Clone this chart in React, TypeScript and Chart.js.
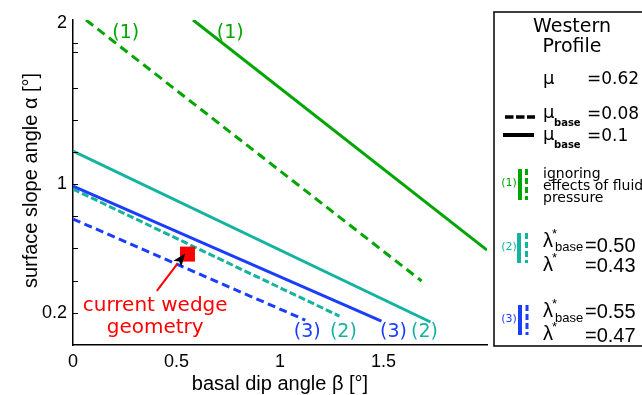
import React, { useEffect, useRef } from 'react';
import { Chart, registerables } from 'chart.js';

Chart.register(...registerables);

// ---- data (basal dip angle beta [deg] vs surface slope angle alpha [deg]) ----
const greenSolidBeta = [0.58, 2.0];
const greenSolidAlpha = [2.02, 0.59];
const greenDashedBeta = [0.063, 1.684];
const greenDashedAlpha = [2.02, 0.398];
const tealSolidBeta = [0, 1.727];
const tealSolidAlpha = [1.205, 0.143];
const tealDashedBeta = [0, 1.287];
const tealDashedAlpha = [0.969, 0.18];
const blueSolidBeta = [0, 1.49];
const blueSolidAlpha = [0.988, 0.149];
const blueDashedBeta = [0, 1.122];
const blueDashedAlpha = [0.783, 0.155];

const wedgeBeta = [0.553];
const wedgeAlpha = [0.565];

const yTickValues = [0.2, 0.4, 0.6, 0.8, 1, 1.2, 1.4, 1.6, 1.82, 1.88, 2];
const yTickLabeled = [0.2, 1, 2];
const xTickLabeled = [0, 0.5, 1, 1.5];

// annotation labels: [text, beta, alpha, colorKey]
const curveLabels: [string, number, number, string][] = [
  ['(1)', 0.255, 1.907, 'green'],
  ['(1)', 0.76, 1.907, 'green'],
  ['(3)', 1.132, 0.05, 'blue'],
  ['(2)', 1.306, 0.05, 'teal'],
  ['(3)', 1.548, 0.05, 'blue'],
  ['(2)', 1.698, 0.05, 'teal'],
];
const wedgeText = ['current wedge', 'geometry'];
const wedgeTextBeta = 0.397;
const wedgeTextAlpha = [0.211, 0.075];
const arrowTail = [0.405, 0.337];
const arrowTip = [0.542, 0.569];

const COLORS: Record<string, string> = {
  green: '#00a600',
  teal: '#14b3a0',
  blue: '#1a3dff',
  red: '#ff0000',
};

const pts = (xs: number[], ys: number[]) => xs.map((x, i) => ({ x, y: ys[i] }));

const SANS = '"Liberation Sans", Arial, sans-serif';
const DEJA = '"DejaVu Sans", sans-serif';

function txt(ctx: CanvasRenderingContext2D, s: string, x: number, y: number, font: string, color: string, align: CanvasTextAlign = 'left') {
  ctx.font = font;
  ctx.fillStyle = color;
  ctx.textAlign = align;
  ctx.textBaseline = 'alphabetic';
  ctx.fillText(s, x, y);
}

const customPlugin = {
  id: 'customDraw',
  afterDatasetsDraw(chart: any) {
    const ctx: CanvasRenderingContext2D = chart.ctx;
    const xs = chart.scales.x;
    const ys = chart.scales.y;
    ctx.save();
    // curve labels
    curveLabels.forEach(([s, b, a, c]) => {
      txt(ctx, s, xs.getPixelForValue(b), ys.getPixelForValue(a), `19px ${DEJA}`, COLORS[c], 'center');
    });
    // wedge text
    wedgeText.forEach((s, i) => {
      txt(ctx, s, xs.getPixelForValue(wedgeTextBeta), ys.getPixelForValue(wedgeTextAlpha[i]), `20px ${DEJA}`, COLORS.red, 'center');
    });
    // arrow
    const tx = xs.getPixelForValue(arrowTail[0]);
    const ty = ys.getPixelForValue(arrowTail[1]);
    const hx = xs.getPixelForValue(arrowTip[0]);
    const hy = ys.getPixelForValue(arrowTip[1]);
    const ang = Math.atan2(hy - ty, hx - tx);
    const hl = 13;
    const hw = 5;
    const bx = hx - hl * Math.cos(ang);
    const by = hy - hl * Math.sin(ang);
    ctx.strokeStyle = COLORS.red;
    ctx.lineWidth = 2;
    ctx.beginPath();
    ctx.moveTo(tx, ty);
    ctx.lineTo(bx, by);
    ctx.stroke();
    ctx.fillStyle = '#000';
    ctx.beginPath();
    ctx.moveTo(hx, hy);
    ctx.lineTo(bx + hw * Math.sin(ang), by - hw * Math.cos(ang));
    ctx.lineTo(bx + 3 * Math.cos(ang), by + 3 * Math.sin(ang));
    ctx.lineTo(bx - hw * Math.sin(ang), by + hw * Math.cos(ang));
    ctx.closePath();
    ctx.fill();
    ctx.restore();
  },
  afterDraw(chart: any) {
    const ctx: CanvasRenderingContext2D = chart.ctx;
    const area = chart.chartArea;
    const ys = chart.scales.y;
    ctx.save();
    // inward y ticks
    ctx.strokeStyle = '#000';
    ctx.lineWidth = 1;
    yTickValues.forEach((v) => {
      if (v === 2) return;
      const py = Math.round(ys.getPixelForValue(v)) + 0.5;
      ctx.beginPath();
      ctx.moveTo(area.left, py);
      ctx.lineTo(area.left + 5, py);
      ctx.stroke();
    });
    // axis titles
    txt(ctx, 'basal dip angle β [°]', (area.left + area.right) / 2, 390, `20px ${SANS}`, '#000', 'center');
    ctx.save();
    ctx.translate(37, (area.top + area.bottom) / 2 - 2);
    ctx.rotate(-Math.PI / 2);
    txt(ctx, 'surface slope angle α [°]', 0, 0, `20px ${SANS}`, '#000', 'center');
    ctx.restore();

    // ---- legend box (right side runs past the canvas edge) ----
    const L = area.right + 7;
    ctx.strokeStyle = '#000';
    ctx.lineWidth = 1.5;
    ctx.beginPath();
    ctx.moveTo(chart.width + 5, 12);
    ctx.lineTo(L, 12);
    ctx.lineTo(L, 346);
    ctx.lineTo(chart.width + 5, 346);
    ctx.stroke();

    txt(ctx, 'Western', L + 78, 32, `19px ${DEJA}`, '#000', 'center');
    txt(ctx, 'Profile', L + 78, 52, `19px ${DEJA}`, '#000', 'center');

    txt(ctx, 'μ', L + 49, 84, `18px ${DEJA}`, '#000');
    txt(ctx, '=0.62', L + 93, 84, `17px ${DEJA}`, '#000');

    // dashed black sample
    ctx.strokeStyle = '#000';
    ctx.lineWidth = 3.5;
    ctx.setLineDash([8.5, 2.5]);
    ctx.beginPath();
    ctx.moveTo(L + 11, 117);
    ctx.lineTo(L + 41, 117);
    ctx.stroke();
    ctx.setLineDash([]);
    txt(ctx, 'μ', L + 49, 118, `18px ${DEJA}`, '#000');
    txt(ctx, 'base', L + 60, 126, `bold 10px ${DEJA}`, '#000');
    txt(ctx, '=0.08', L + 93, 119, `17px ${DEJA}`, '#000');

    // solid black sample
    ctx.lineWidth = 4;
    ctx.beginPath();
    ctx.moveTo(L + 9, 135);
    ctx.lineTo(L + 40, 135);
    ctx.stroke();
    txt(ctx, 'μ', L + 49, 140, `18px ${DEJA}`, '#000');
    txt(ctx, 'base', L + 60, 148, `bold 10px ${DEJA}`, '#000');
    txt(ctx, '=0.1', L + 93, 141, `17px ${DEJA}`, '#000');

    const bars = (color: string, y0: number, y1: number, xs0: number, xd: number) => {
      ctx.fillStyle = color;
      ctx.fillRect(xs0, y0, 4, y1 - y0);
      ctx.strokeStyle = color;
      ctx.lineWidth = 3;
      ctx.setLineDash([6, 3]);
      ctx.beginPath();
      ctx.moveTo(xd, y0);
      ctx.lineTo(xd, y1);
      ctx.stroke();
      ctx.setLineDash([]);
    };

    // group (1)
    txt(ctx, '(1)', L + 15, 186, `11px ${DEJA}`, COLORS.green, 'center');
    bars(COLORS.green, 169, 200, L + 24, L + 32.5);
    txt(ctx, 'ignoring', L + 49, 178, `14px ${DEJA}`, '#000');
    txt(ctx, 'effects of fluid', L + 49, 190, `14px ${DEJA}`, '#000');
    txt(ctx, 'pressure', L + 49, 202, `14px ${DEJA}`, '#000');

    // group (2)
    txt(ctx, '(2)', L + 15, 250, `11px ${DEJA}`, COLORS.teal, 'center');
    bars(COLORS.teal, 233, 263, L + 23, L + 32.5);
    txt(ctx, 'λ', L + 49, 247, `20px ${SANS}`, '#000');
    txt(ctx, '*', L + 58, 238, `13px ${SANS}`, '#000');
    txt(ctx, 'base', L + 61, 251, `13px ${SANS}`, '#000');
    txt(ctx, '=0.50', L + 91, 252, `20px ${SANS}`, '#000');
    txt(ctx, 'λ', L + 49, 271, `20px ${SANS}`, '#000');
    txt(ctx, '*', L + 58, 262, `13px ${SANS}`, '#000');
    txt(ctx, '=0.43', L + 91, 272, `20px ${SANS}`, '#000');

    // group (3)
    txt(ctx, '(3)', L + 15, 322, `11px ${DEJA}`, COLORS.blue, 'center');
    bars(COLORS.blue, 305, 335, L + 24, L + 33);
    txt(ctx, 'λ', L + 49, 317, `20px ${SANS}`, '#000');
    txt(ctx, '*', L + 58, 308, `13px ${SANS}`, '#000');
    txt(ctx, 'base', L + 61, 322, `13px ${SANS}`, '#000');
    txt(ctx, '=0.55', L + 91, 318, `20px ${SANS}`, '#000');
    txt(ctx, 'λ', L + 49, 340, `20px ${SANS}`, '#000');
    txt(ctx, '*', L + 58, 331, `13px ${SANS}`, '#000');
    txt(ctx, '=0.47', L + 91, 342, `20px ${SANS}`, '#000');

    ctx.restore();
  },
};

export default function App() {
  const ref = useRef<HTMLCanvasElement>(null);
  useEffect(() => {
    if (!ref.current) return;
    const line = (data: { x: number; y: number }[], color: string, dash: number[]) => ({
      data,
      borderColor: color,
      backgroundColor: color,
      borderWidth: 3,
      borderDash: dash,
      pointRadius: 0,
      fill: false,
      tension: 0,
    });
    const chart = new Chart(ref.current, {
      type: 'line',
      data: {
        datasets: [
          {
            data: pts(wedgeBeta, wedgeAlpha),
            showLine: false,
            pointStyle: 'rect',
            pointRadius: 10.6,
            pointBackgroundColor: COLORS.red,
            pointBorderWidth: 0,
            borderColor: COLORS.red,
            backgroundColor: COLORS.red,
          } as any,
          line(pts(greenSolidBeta, greenSolidAlpha), COLORS.green, []),
          line(pts(greenDashedBeta, greenDashedAlpha), COLORS.green, [9, 5.5]),
          line(pts(tealSolidBeta, tealSolidAlpha), COLORS.teal, []),
          line(pts(blueSolidBeta, blueSolidAlpha), COLORS.blue, []),
          line(pts(tealDashedBeta, tealDashedAlpha), COLORS.teal, [7, 3]),
          line(pts(blueDashedBeta, blueDashedAlpha), COLORS.blue, [8, 4.5]),
        ],
      },
      options: {
        responsive: false,
        animation: false,
        devicePixelRatio: 1,
        layout: { padding: { left: 0, right: 155, top: 20, bottom: 0 } },
        plugins: { legend: { display: false }, tooltip: { enabled: false } },
        scales: {
          x: {
            type: 'linear',
            min: 0,
            max: 2,
            grid: { display: false, drawTicks: false },
            border: { display: true, color: '#000', width: 1.5 },
            afterBuildTicks: (s: any) => {
              s.ticks = [0, 0.5, 1, 1.5, 2].map((v) => ({ value: v }));
            },
            afterFit: (s: any) => {
              s.height = 50;
            },
            ticks: {
              color: '#000',
              padding: 6,
              maxRotation: 0,
              autoSkip: false,
              font: { family: SANS, size: 18 },
              callback: (v: any) => (xTickLabeled.includes(Number(v)) ? String(v) : ''),
            },
          },
          y: {
            type: 'linear',
            min: 0,
            max: 2.02,
            grid: { display: false, drawTicks: false },
            border: { display: true, color: '#000', width: 1.5 },
            afterBuildTicks: (s: any) => {
              s.ticks = yTickValues.map((v) => ({ value: v }));
            },
            afterFit: (s: any) => {
              s.width = 73;
            },
            ticks: {
              color: '#000',
              padding: 6,
              autoSkip: false,
              font: { family: SANS, size: 18 },
              callback: (v: any) => (yTickLabeled.includes(Number(v)) ? String(v) : ''),
            },
          },
        },
      },
      plugins: [customPlugin],
    });
    return () => chart.destroy();
  }, []);
  return (
    <div style={{ position: 'absolute', left: 0, top: 0, width: 642, height: 395 }}>
      <canvas ref={ref} width={642} height={395} style={{ display: 'block', width: 642, height: 395 }} />
    </div>
  );
}
